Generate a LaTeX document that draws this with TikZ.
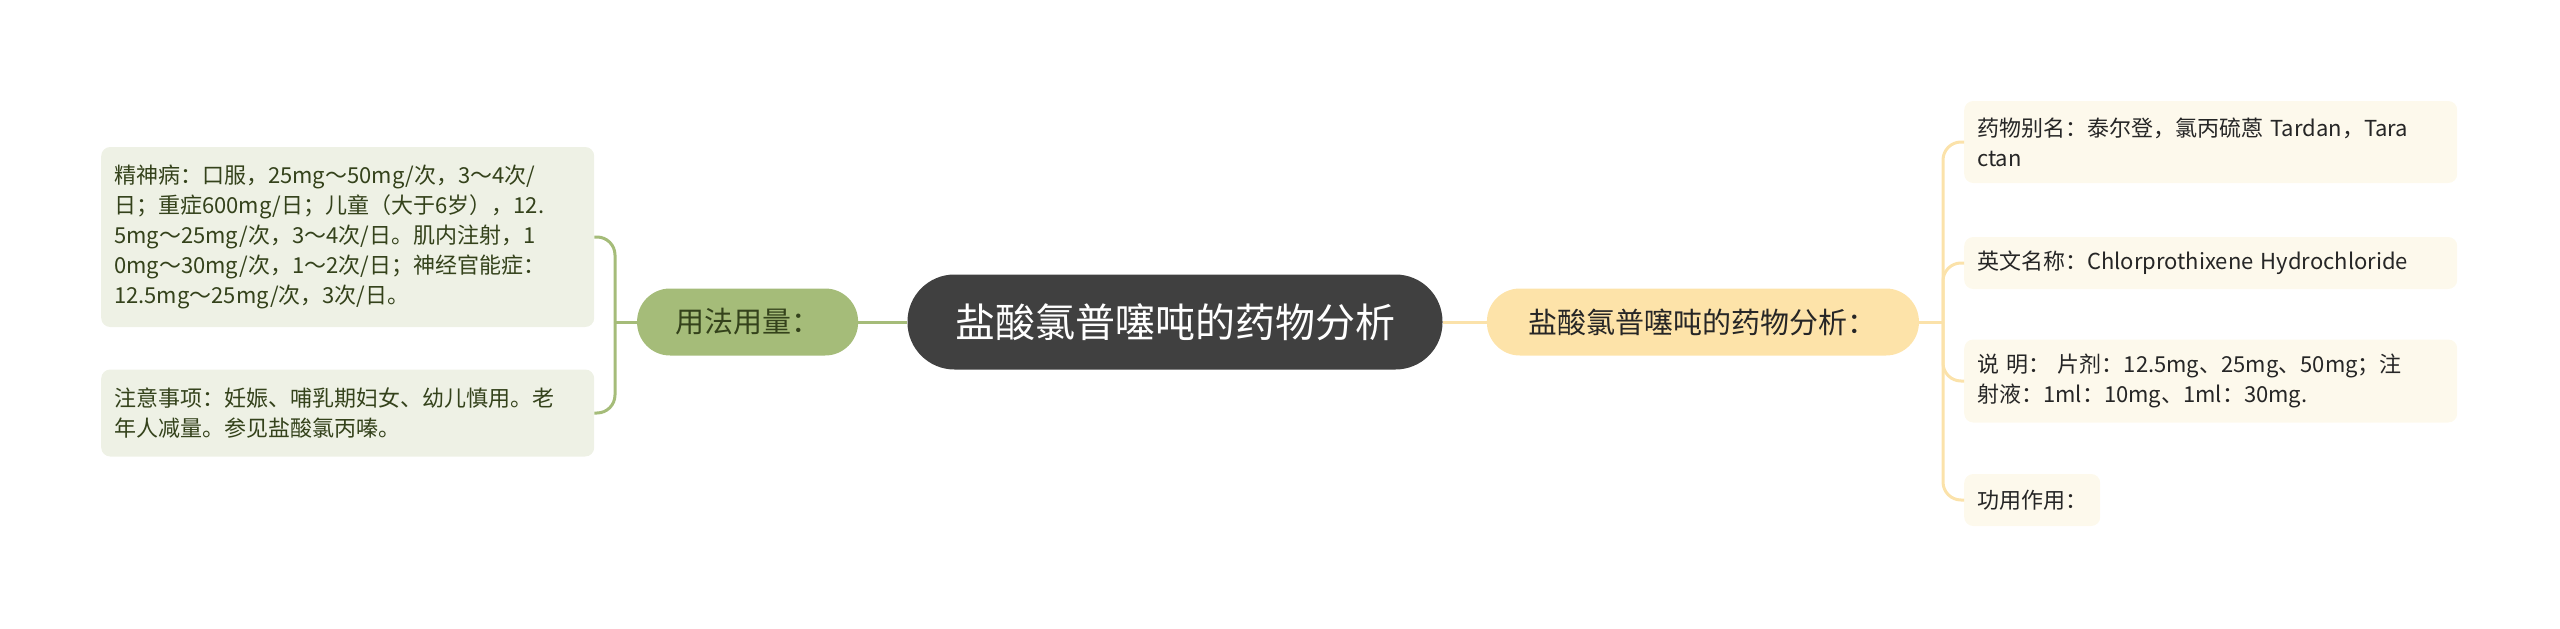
\documentclass[tikz,border=0pt]{standalone}
\usepackage{fontspec}
\setmainfont{Noto Sans CJK SC}
\usepackage{xcolor}
\usetikzlibrary{positioning}
\definecolor{rootfill}{HTML}{404040}
\definecolor{usagefill}{HTML}{A5BC79}
\definecolor{usageleaf}{HTML}{EEF1E5}
\definecolor{usagetext}{HTML}{34421B}
\definecolor{infofill}{HTML}{FDE3A9}
\definecolor{infoleaf}{HTML}{FDF9EC}
\definecolor{infoline}{HTML}{FBE2AA}
\tikzset{
  root/.style={
    fill=rootfill, text=white, rounded corners=47pt,
    minimum width=535pt, minimum height=95pt, inner sep=0pt,
    font=\fontsize{40}{48}\selectfont,
  },
  branch/.style={
    rounded corners=33pt, minimum height=67pt, inner sep=0pt,
    font=\fontsize{29}{35}\selectfont,
  },
  leaf/.style={
    anchor=west, rounded corners=9pt, align=left, inner xsep=13pt,
    inner ysep=0pt, font=\fontsize{22}{30}\selectfont,
  },
  usage line/.style={draw=usagefill, line width=3pt},
  info line/.style={draw=infoline, line width=3pt},
}

\begin{document}
\begin{tikzpicture}[x=1pt, y=-1pt]

  \useasboundingbox (0,0) rectangle (2560,629);

  % Define nodes
  \node[root] (drug) at (1175,322) {盐酸氯普噻吨的药物分析};

  \node[branch, fill=usagefill, text=usagetext, minimum width=221pt,
        left=49pt of drug] (usage) {用法用量：};
  \node[branch, fill=infofill, text=black!85, minimum width=432pt,
        right=44pt of drug] (info) {盐酸氯普噻吨的药物分析：};

  \node[leaf, fill=usageleaf, text=usagetext, text width=467pt,
        minimum height=180pt] (dose) at (101,237)
    {精神病：口服，25mg～50mg/次，3～4次/\\
     日；重症600mg/日；儿童（大于6岁），12.\\
     5mg～25mg/次，3～4次/日。肌内注射，1\\
     0mg～30mg/次，1～2次/日；神经官能症：\\
     12.5mg～25mg/次，3次/日。};
  \node[leaf, fill=usageleaf, text=usagetext, text width=467pt,
        minimum height=87pt] (caution) at (101,413)
    {注意事项：妊娠、哺乳期妇女、幼儿慎用。老\\
     年人减量。参见盐酸氯丙嗪。};

  \node[leaf, fill=infoleaf, text=black!85, text width=467pt,
        minimum height=82pt] (alias) at (1964,142)
    {药物别名：泰尔登，氯丙硫蒽 Tardan，Tara\\
     ctan};
  \node[leaf, fill=infoleaf, text=black!85, text width=467pt,
        minimum height=52pt] (ename) at (1964,263)
    {英文名称：Chlorprothixene Hydrochloride};
  \node[leaf, fill=infoleaf, text=black!85, text width=467pt,
        minimum height=83pt] (spec) at (1964,381)
    {说 明： 片剂：12.5mg、25mg、50mg；注\\
     射液：1ml：10mg、1ml：30mg.};
  \node[leaf, fill=infoleaf, text=black!85,
        minimum height=52pt] (effect) at (1964,500) {功用作用：};

  \coordinate (lj) at (615,322);
  \coordinate (rj) at (1943,322);

  % Connect nodes
  \draw[usage line] (drug.west) -- (usage.east);
  \draw[usage line] (usage.west) -- (lj);
  \draw[usage line, rounded corners=18pt] (lj) |- (dose.east);
  \draw[usage line, rounded corners=18pt] (lj) |- (caution.east);

  \draw[info line] (drug.east) -- (info.west);
  \draw[info line] (info.east) -- (rj);
  \draw[info line, rounded corners=18pt] (rj) |- (alias.west);
  \draw[info line, rounded corners=18pt] (rj) |- (ename.west);
  \draw[info line, rounded corners=18pt] (rj) |- (spec.west);
  \draw[info line, rounded corners=18pt] (rj) |- (effect.west);

\end{tikzpicture}
\end{document}
